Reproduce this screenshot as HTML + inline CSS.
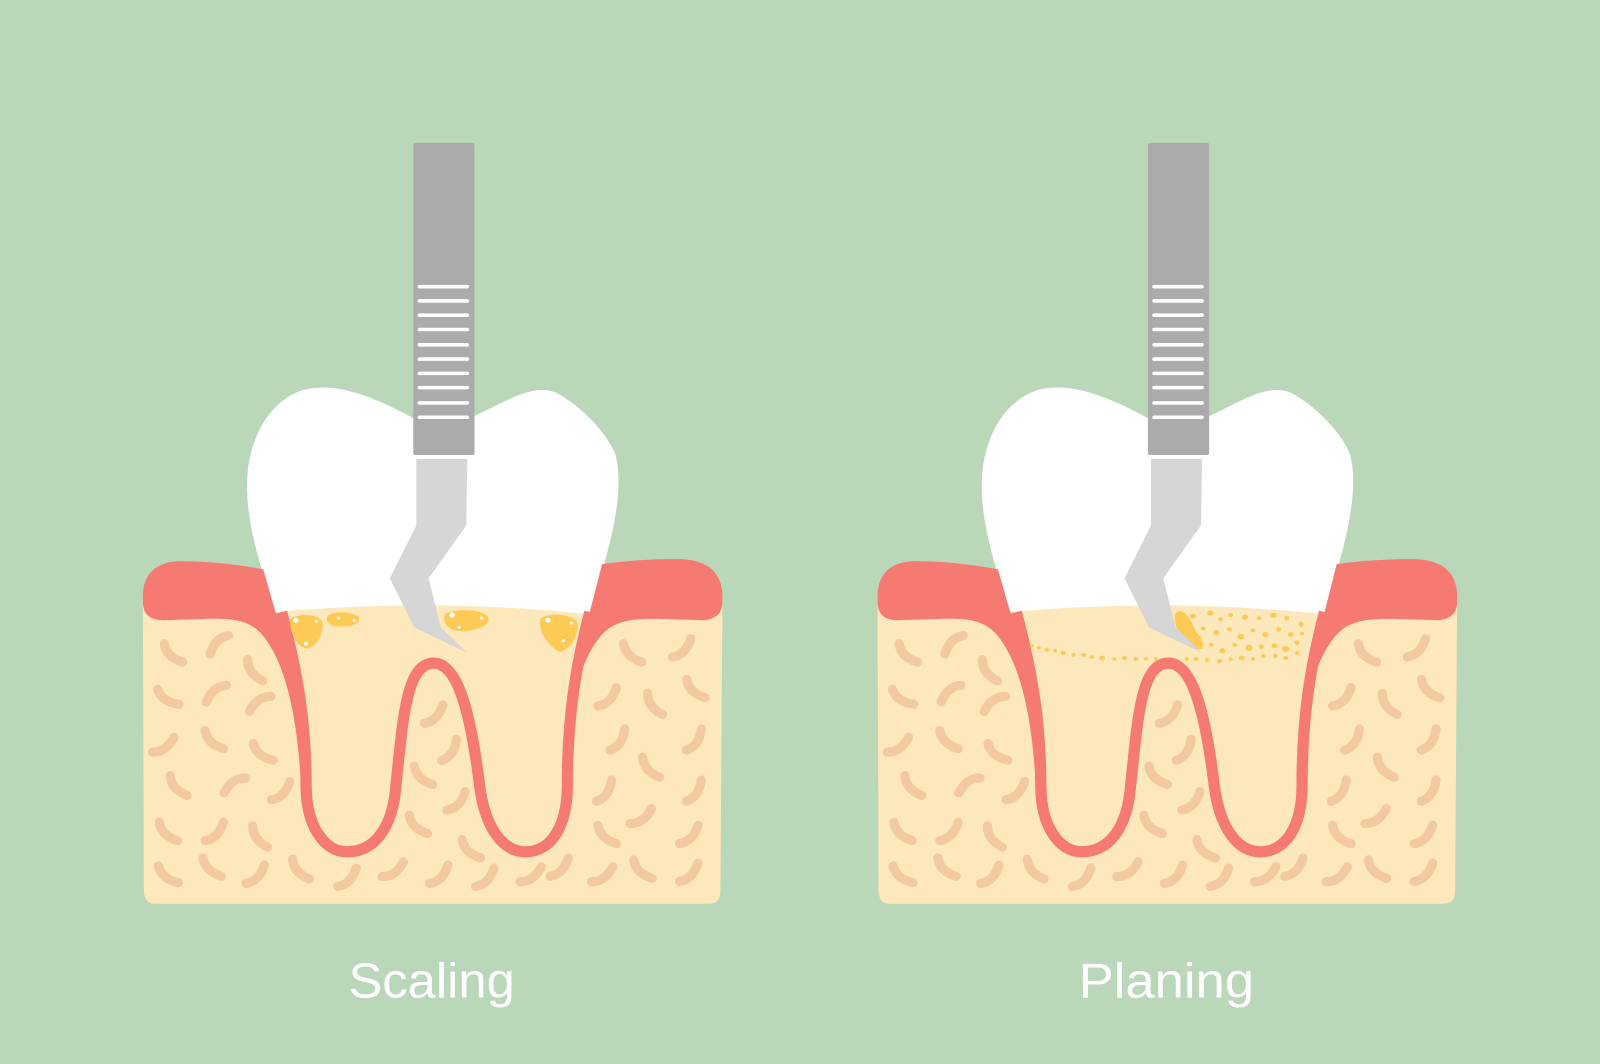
<!DOCTYPE html>
<html><head><meta charset="utf-8"><style>
html,body{margin:0;padding:0;background:#bad8b9;}
svg{display:block;}
</style></head><body>
<svg width="1600" height="1064" viewBox="0 0 1568 1043" preserveAspectRatio="none" xmlns="http://www.w3.org/2000/svg">
<rect width="1568" height="1043" fill="#bad8b9"/>
<defs>
<path id="d" d="M-9,-9 Q-7,4 9,9" fill="none" stroke="#f3c9a0" stroke-width="9" stroke-linecap="round"/>
<g id="tooth">
  <path d="M140,586 L708,586 L706,874 Q706,886 694,886 L152,886 Q142,886 141,874 Z" fill="#fde8bb"/>
  <g>
    <use href="#d" transform="translate(170,640) rotate(0)"/>
    <use href="#d" transform="translate(215,632) rotate(90)"/>
    <use href="#d" transform="translate(250,657) rotate(10)"/>
    <use href="#d" transform="translate(165,683) rotate(-10)"/>
    <use href="#d" transform="translate(212,680) rotate(95)"/>
    <use href="#d" transform="translate(255,690) rotate(100)"/>
    <use href="#d" transform="translate(160,730) rotate(-80)"/>
    <use href="#d" transform="translate(210,725) rotate(0)"/>
    <use href="#d" transform="translate(258,737) rotate(-5)"/>
    <use href="#d" transform="translate(175,770) rotate(5)"/>
    <use href="#d" transform="translate(230,770) rotate(100)"/>
    <use href="#d" transform="translate(275,775) rotate(-90)"/>
    <use href="#d" transform="translate(165,815) rotate(0)"/>
    <use href="#d" transform="translate(210,815) rotate(-90)"/>
    <use href="#d" transform="translate(255,820) rotate(10)"/>
    <use href="#d" transform="translate(165,857) rotate(-5)"/>
    <use href="#d" transform="translate(208,850) rotate(0)"/>
    <use href="#d" transform="translate(250,857) rotate(-90)"/>
    <use href="#d" transform="translate(295,852) rotate(5)"/>
    <use href="#d" transform="translate(340,860) rotate(-90)"/>
    <use href="#d" transform="translate(385,852) rotate(-80)"/>
    <use href="#d" transform="translate(430,857) rotate(-90)"/>
    <use href="#d" transform="translate(475,860) rotate(-90)"/>
    <use href="#d" transform="translate(520,857) rotate(-80)"/>
    <use href="#d" transform="translate(548,850) rotate(-90)"/>
    <use href="#d" transform="translate(590,857) rotate(-80)"/>
    <use href="#d" transform="translate(630,852) rotate(0)"/>
    <use href="#d" transform="translate(675,855) rotate(-90)"/>
    <use href="#d" transform="translate(620,640) rotate(0)"/>
    <use href="#d" transform="translate(668,635) rotate(-90)"/>
    <use href="#d" transform="translate(595,683) rotate(-90)"/>
    <use href="#d" transform="translate(642,690) rotate(10)"/>
    <use href="#d" transform="translate(682,675) rotate(0)"/>
    <use href="#d" transform="translate(605,725) rotate(-100)"/>
    <use href="#d" transform="translate(680,725) rotate(-100)"/>
    <use href="#d" transform="translate(638,752) rotate(5)"/>
    <use href="#d" transform="translate(592,775) rotate(-100)"/>
    <use href="#d" transform="translate(680,775) rotate(-100)"/>
    <use href="#d" transform="translate(628,800) rotate(-80)"/>
    <use href="#d" transform="translate(595,818) rotate(0)"/>
    <use href="#d" transform="translate(675,818) rotate(-90)"/>
    <use href="#d" transform="translate(425,700) rotate(-90)"/>
    <use href="#d" transform="translate(440,735) rotate(-100)"/>
    <use href="#d" transform="translate(415,760) rotate(0)"/>
    <use href="#d" transform="translate(447,785) rotate(-90)"/>
    <use href="#d" transform="translate(410,808) rotate(0)"/>
    <use href="#d" transform="translate(462,832) rotate(0)"/>
  </g>
  <path d="M270,600 C255,555 238,505 243,460 C248,420 268,395 290,385 C320,372 360,385 405,410 L460,410 C495,395 520,375 545,385 C570,398 595,425 603,445 C612,480 600,525 588,568 L578,602 Q424,586 270,600 Z" fill="#fff"/>
  <path d="M276,600 C292,660 300,710 300,770 C300,810 318,835 340,835 C368,835 385,810 388,770 C395,705 398,650 425,650 C450,650 462,705 470,770 C475,810 492,835 515,835 C540,835 556,810 556,770 C556,700 565,650 578,600" fill="none" stroke="#f47a72" stroke-width="11"/>
  <path d="M140,585 Q140,552 175,550 Q215,550 258,558 L270,600 C292,650 302,710 305,770 L295,770 C292,710 282,650 255,620 C240,605 220,606 190,607 L160,608 Q140,608 140,590 Z" fill="#f47a72"/>
  <path d="M708,585 Q708,549 665,548 Q625,548 590,553 L578,600 C566,650 560,710 560,770 L552,770 C553,710 565,650 590,622 C605,606 625,606 660,607 L690,608 Q708,606 708,590 Z" fill="#f47a72"/>
</g>
<g id="tool">
  <rect x="405" y="140" width="60" height="306" rx="2" fill="#ababab"/>
  <g stroke="#fff" stroke-width="3.5" stroke-linecap="round">
    <line x1="411" y1="281" x2="458" y2="281"/><line x1="411" y1="295" x2="458" y2="295"/>
    <line x1="411" y1="309" x2="458" y2="309"/><line x1="411" y1="323" x2="458" y2="323"/>
    <line x1="411" y1="338" x2="458" y2="338"/><line x1="411" y1="352" x2="458" y2="352"/>
    <line x1="411" y1="366" x2="458" y2="366"/><line x1="411" y1="380" x2="458" y2="380"/>
    <line x1="411" y1="395" x2="458" y2="395"/><line x1="411" y1="409" x2="458" y2="409"/>
  </g>
  <polygon points="408,450 458,450 457,515 420,567 432,615 458,640 406,615 382,567 408,515" fill="#d6d6d6"/>
</g>
</defs>

<use href="#tooth"/>
<use href="#tool"/>
<g fill="#fdca55">
  <path d="M284,607 C295,600 312,602 316,610 C318,622 308,636 300,636 C292,634 284,622 284,607 Z"/>
  <path d="M322,603 C332,598 348,600 352,606 C353,613 340,615 328,614 C320,612 318,606 322,603 Z"/>
  <path d="M436,602 C448,596 470,597 478,604 C482,612 470,617 455,619 C440,619 433,612 436,602 Z"/>
  <path d="M530,606 C540,600 560,602 566,610 C568,622 558,638 548,639 C538,634 526,618 530,606 Z"/>
</g>
<g fill="#fff">
  <circle cx="290" cy="608" r="2.5"/><circle cx="300" cy="631" r="2"/><circle cx="310" cy="609" r="1.5"/>
  <circle cx="332" cy="606" r="1.5"/><circle cx="347" cy="608" r="1.5"/>
  <circle cx="443" cy="603" r="2.5"/><circle cx="472" cy="606" r="1.5"/><circle cx="450" cy="615" r="1.5"/>
  <circle cx="537" cy="608" r="2.5"/><circle cx="560" cy="611" r="1.5"/><circle cx="552" cy="628" r="1.5"/>
</g>

<g transform="translate(720,0)">
  <use href="#tooth"/>
  <g fill="#fdca55">
    <path d="M433,600 C440,596 446,605 450,615 C456,625 462,632 458,636 C450,638 440,628 434,618 C431,610 430,604 433,600 Z"/>
    <ellipse cx="291" cy="633" rx="2" ry="1.6"/><ellipse cx="298" cy="635" rx="2" ry="1.6"/><ellipse cx="306" cy="637" rx="2.5" ry="2"/>
    <ellipse cx="314" cy="638" rx="2" ry="2"/><ellipse cx="322" cy="640" rx="2.5" ry="2"/><ellipse cx="332" cy="642" rx="2" ry="2"/>
    <ellipse cx="342" cy="642" rx="2.5" ry="2"/><ellipse cx="350" cy="644" rx="2" ry="1.6"/><ellipse cx="360" cy="645" rx="3" ry="2.3"/>
    <ellipse cx="372" cy="646" rx="2" ry="1.6"/><ellipse cx="382" cy="645" rx="2.5" ry="2"/><ellipse cx="393" cy="646" rx="2.5" ry="2"/>
    <ellipse cx="403" cy="646" rx="2" ry="1.6"/><ellipse cx="413" cy="646" rx="2" ry="2"/><ellipse cx="443" cy="646" rx="2" ry="2"/>
    <ellipse cx="452" cy="646" rx="2.5" ry="2"/><ellipse cx="463" cy="647" rx="2" ry="2"/><ellipse cx="475" cy="648" rx="2.5" ry="2"/>
    <ellipse cx="486" cy="646" rx="2" ry="2"/><ellipse cx="497" cy="645" rx="3" ry="2.3"/><ellipse cx="508" cy="646" rx="2" ry="2"/>
    <ellipse cx="518" cy="643" rx="2.5" ry="2"/><ellipse cx="530" cy="643" rx="2" ry="2"/><ellipse cx="540" cy="645" rx="2.5" ry="2"/>
    <ellipse cx="551" cy="640" rx="2" ry="2"/>
    <ellipse cx="449" cy="604" rx="3" ry="2.5"/><ellipse cx="466" cy="601" rx="3" ry="2.5"/><ellipse cx="476" cy="607" rx="2.3" ry="2"/>
    <ellipse cx="486" cy="603" rx="2.5" ry="2"/><ellipse cx="500" cy="605" rx="3" ry="2.5"/><ellipse cx="514" cy="606" rx="2.5" ry="2"/>
    <ellipse cx="528" cy="603" rx="3" ry="2.5"/><ellipse cx="541" cy="606" rx="2.5" ry="2.3"/><ellipse cx="555" cy="612" rx="2.5" ry="2.5"/>
    <ellipse cx="459" cy="616" rx="2.5" ry="2"/><ellipse cx="472" cy="620" rx="3" ry="2.5"/><ellipse cx="485" cy="617" rx="2.3" ry="2"/>
    <ellipse cx="496" cy="624" rx="3.3" ry="2.8"/><ellipse cx="508" cy="618" rx="2.5" ry="2"/><ellipse cx="520" cy="622" rx="3" ry="2.5"/>
    <ellipse cx="533" cy="617" rx="2.5" ry="2.3"/><ellipse cx="545" cy="622" rx="3" ry="2.5"/><ellipse cx="556" cy="621" rx="2" ry="2"/>
    <ellipse cx="467" cy="632" rx="2.5" ry="2"/><ellipse cx="478" cy="638" rx="3" ry="2.5"/><ellipse cx="490" cy="632" rx="2.3" ry="2"/>
    <ellipse cx="504" cy="635" rx="3.5" ry="3"/><ellipse cx="516" cy="634" rx="2.5" ry="2.3"/><ellipse cx="529" cy="633" rx="3" ry="2.5"/>
    <ellipse cx="540" cy="636" rx="3.5" ry="2.8"/><ellipse cx="551" cy="630" rx="2.5" ry="2.3"/><ellipse cx="455" cy="625" rx="2" ry="2"/>
  </g>
  <use href="#tool"/>
</g>

<text x="423" y="978" text-anchor="middle" font-family="Liberation Sans, DejaVu Sans, sans-serif" font-size="48" fill="#fff" textLength="163" lengthAdjust="spacingAndGlyphs">Scaling</text>
<text x="1143" y="978" text-anchor="middle" font-family="Liberation Sans, DejaVu Sans, sans-serif" font-size="48" fill="#fff" textLength="172" lengthAdjust="spacingAndGlyphs">Planing</text>
</svg>
</body></html>
